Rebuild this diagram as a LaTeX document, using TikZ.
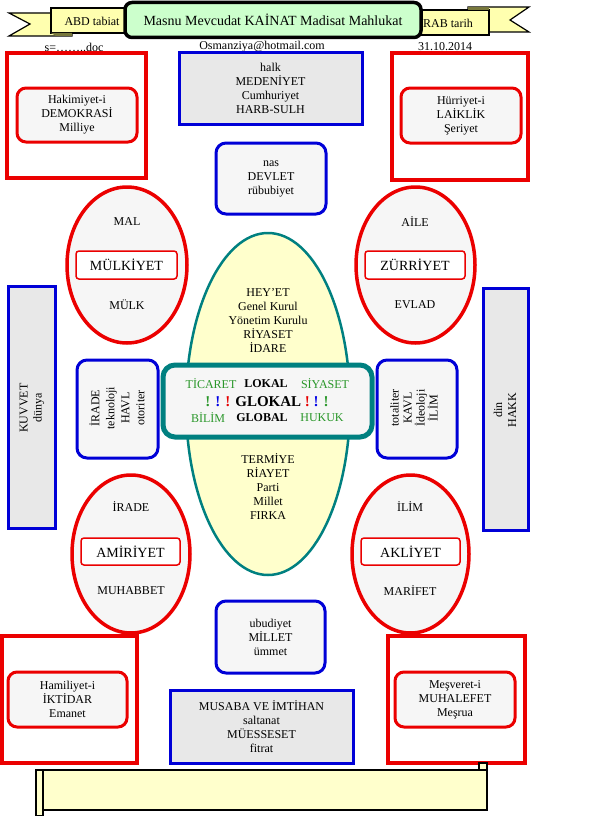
\documentclass[tikz,border=0pt]{standalone}
\usepackage{fontspec}
\setmainfont{Liberation Serif}
\usepackage{tikz}
\usetikzlibrary{positioning}
\usetikzlibrary{shapes.geometric}
\usepackage{xcolor}
\definecolor{redline}{RGB}{235,0,0}
\definecolor{blueline}{RGB}{0,0,215}
\definecolor{tealline}{RGB}{0,128,128}
\definecolor{greentext}{RGB}{40,150,40}
\definecolor{bangblue}{RGB}{0,0,230}
\definecolor{bangred}{RGB}{230,0,0}
\definecolor{boxgray}{RGB}{232,232,232}
\definecolor{boxlight}{RGB}{246,246,246}
\definecolor{paleyellow}{RGB}{255,255,204}
\definecolor{palegreen}{RGB}{204,255,204}
\definecolor{ribbon}{RGB}{255,255,175}
\definecolor{ribbonfold}{RGB}{120,120,60}

\begin{document}
\begin{tikzpicture}[x=1pt, y=-1pt,
    every node/.style={font=\fontsize{12}{14}\selectfont, align=center, inner sep=0pt},
    ribbonpart/.style={draw=black, line width=1.2pt, fill=ribbon},
    outerbox/.style={draw=redline, line width=4pt},
    innerbox/.style={draw=redline, line width=3pt, rounded corners=9pt, fill=boxlight},
    bluebox/.style={draw=blueline, line width=3pt, fill=boxgray},
    roundblue/.style={draw=blueline, line width=3pt, rounded corners=10pt, fill=boxlight},
    redoval/.style={ellipse, draw=redline, line width=3.5pt, fill=boxlight},
    ovalbar/.style={draw=redline, line width=1.5pt, rounded corners=3pt, fill=white,
        minimum height=28, font=\fontsize{14}{16}\selectfont},
    tallbox/.style={draw=blueline, line width=3pt, fill=boxgray},
    glokword/.style={font=\fontsize{12}{14}\selectfont\color{greentext}},
    glokbold/.style={font=\fontsize{12}{14}\selectfont\bfseries},
    ]
    \useasboundingbox (0,0) rectangle (597,816);

    % Ribbon behind the title
    \filldraw[ribbonpart] (9,13) -- (72,13) -- (72,36) -- (9,36) -- (30,24) -- cycle;
    \filldraw[ribbonpart] (51,8) rectangle (140,33);
    \fill[ribbonfold] (51,33) -- (72,33) -- (72,36) -- (56,36) -- cycle;
    \filldraw[ribbonpart] (468,7) -- (529,7) -- (510,20) -- (529,32) -- (468,32) -- cycle;
    \filldraw[ribbonpart] (405,10) rectangle (489,35);
    \fill[ribbonfold] (468,7) -- (489,7) -- (489,10) -- (468,10) -- cycle;
    \node (abd) at (92,21) {ABD tabiat};
    \node (rab) at (448,23) {RAB tarih};

    % Title
    \node[draw=black, line width=3.5pt, rounded corners=7pt, fill=palegreen,
        minimum width=296, minimum height=35, font=\fontsize{14}{16}\selectfont]
        (title) at (273,20) {Masnu Mevcudat KAİNAT Madisat Mahlukat};

    % Header line
    \node (doc) at (74,47) {s=……..doc};
    \node (mail) at (262,47) {Osmanziya@hotmail.com};
    \node (date) at (445,47) {31.10.2014};

    % Top corners
    \node[outerbox, minimum width=139, minimum height=125] (hakimout) at (76.5,115.5) {};
    \node[innerbox, minimum width=120, minimum height=54] (hakim) at (77,115)
        {Hakimiyet-i\\DEMOKRASİ\\Milliye};
    \node[outerbox, minimum width=136, minimum height=127] (hurout) at (460,116.5) {};
    \node[innerbox, minimum width=120, minimum height=55] (hur) at (461,115.5)
        {Hürriyet-i\\LAİKLİK\\Şeriyet};

    % Top middle
    \node[bluebox, minimum width=183, minimum height=71] (halk) at (270.5,88.5)
        {halk\\MEDENİYET\\Cumhuriyet\\HARB-SULH};
    \node[roundblue, minimum width=110, minimum height=71] (nas) at (271,178.5)
        {nas\\DEVLET\\rübubiyet};

    % Upper ovals
    \node[redoval, minimum width=120, minimum height=156] (mulkoval) at (127,265) {};
    \node[ovalbar, minimum width=101] (mulkiyet) at (126.5,265) {MÜLKİYET};
    \node (mal) at (127,222) {MAL};
    \node (mulk) at (127,305) {MÜLK};
    \node[redoval, minimum width=119, minimum height=156] (zuroval) at (415.5,265) {};
    \node[ovalbar, minimum width=100] (zurriyet) at (415,265) {ZÜRRİYET};
    \node (aile) at (415,222) {AİLE};
    \node (evlad) at (415,305) {EVLAD};

    % Central oval
    \node[ellipse, draw=tealline, line width=2.5pt, fill=paleyellow,
        minimum width=164, minimum height=342] (heyet) at (268,404) {};
    \node (heyettop) at (268,321)
        {HEY’ET\\Genel Kurul\\Yönetim Kurulu\\RİYASET\\İDARE};
    \node (heyetbot) at (268,487)
        {TERMİYE\\RİAYET\\Parti\\Millet\\FIRKA};

    % Side boxes
    \node[tallbox, minimum width=47, minimum height=242] (kuvvetbox) at (31.5,407) {};
    \node[rotate=90] (kuvvet) at (32,408) {KUVVET\\dünya};
    \node[tallbox, minimum width=45, minimum height=242] (hakkbox) at (505.5,409) {};
    \node[rotate=90] (hakk) at (505,410) {din\\HAKK};
    \node[roundblue, minimum width=81, minimum height=98] (iradebox) at (117.5,409) {};
    \node[rotate=90, font=\fontsize{12}{15}\selectfont] (irade) at (117,408)
        {İRADE\\teknoloji\\HAVL\\otoriter};
    \node[roundblue, minimum width=80, minimum height=98] (ilimbox) at (417,409) {};
    \node[rotate=90, font=\fontsize{12}{13}\selectfont] (ilim) at (414,408)
        {totaliter\\KAVL\\İdeoloji\\İLİM};

    % Glokal box
    \node[draw=tealline, line width=5pt, rounded corners=12pt, fill=boxlight,
        minimum width=209, minimum height=72] (glokalbox) at (267.5,401) {};
    \node[glokword] (ticaret) at (211,384) {TİCARET};
    \node[glokbold] (lokal) at (266,384) {LOKAL};
    \node[glokword] (siyaset) at (325,384) {SİYASET};
    \node[font=\fontsize{15}{17}\selectfont\bfseries] (glokal) at (267,402)
        {{\color{greentext}!} {\color{bangblue}!} {\color{bangred}!} GLOKAL
         {\color{bangred}!} {\color{bangblue}!} {\color{greentext}!}};
    \node[glokword] (bilim) at (208,418) {BİLİM};
    \node[glokbold] (global) at (262,418) {GLOBAL};
    \node[glokword] (hukuk) at (322,418) {HUKUK};

    % Lower ovals
    \node[redoval, minimum width=118, minimum height=158] (amiroval) at (131,554) {};
    \node[ovalbar, minimum width=99, minimum height=27] (amiriyet) at (130.5,551.5) {AMİRİYET};
    \node (iradeup) at (131,507) {İRADE};
    \node (muhabbet) at (131,591) {MUHABBET};
    \node[redoval, minimum width=117, minimum height=158] (akloval) at (410.5,554) {};
    \node[ovalbar, minimum width=99, minimum height=27] (akliyet) at (410.5,551.5) {AKLİYET};
    \node (ilimup) at (410,507) {İLİM};
    \node (marifet) at (410,591) {MARİFET};

    % Bottom middle
    \node[roundblue, minimum width=109, minimum height=72] (ubudiyet) at (270.5,637)
        {ubudiyet\\MİLLET\\ümmet};
    \node[bluebox, minimum width=183, minimum height=73] (musaba) at (261.5,726.5)
        {MUSABA VE İMTİHAN\\saltanat\\MÜESSESET\\fitrat};

    % Bottom corners
    \node[outerbox, minimum width=135, minimum height=127] (hamilout) at (69.5,699.5) {};
    \node[innerbox, minimum width=119, minimum height=55] (hamil) at (67.5,699.5)
        {Hamiliyet-i\\İKTİDAR\\Emanet};
    \node[outerbox, minimum width=137, minimum height=127] (mesout) at (456.5,699.5) {};
    \node[innerbox, minimum width=120, minimum height=55] (mesveret) at (455,699.5)
        {Meşveret-i\\MUHALEFET\\Meşrua};

    % Scroll at the bottom
    \filldraw[draw=black, line width=1.3pt, fill=paleyellow] (43,770) rectangle (487,810);
    \filldraw[draw=black, line width=1.3pt, fill=paleyellow] (36,770) rectangle (43,816);
    \filldraw[draw=black, line width=1.3pt, fill=paleyellow] (479,763) rectangle (487,770);
\end{tikzpicture}
\end{document}
